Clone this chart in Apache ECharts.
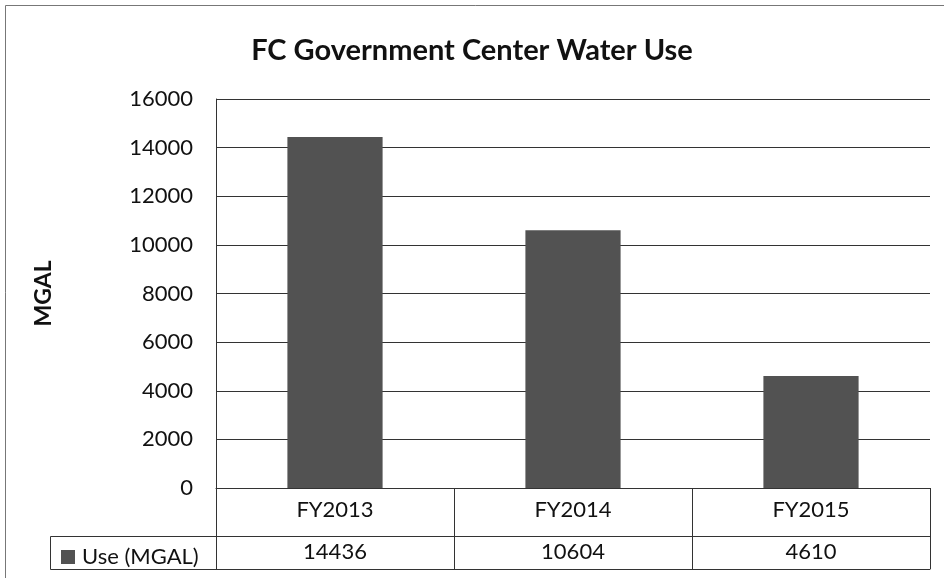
<!DOCTYPE html>
<html>
<head>
<meta charset="utf-8">
<script src="https://cdn.jsdelivr.net/npm/echarts@6/dist/echarts.min.js"></script>
<style>
  html, body { margin: 0; padding: 0; background: #fff; }
  #main { width: 944px; height: 578px; }
</style>
</head>
<body>
<div id="main"></div>
<script>
const categories = ['FY2013', 'FY2014', 'FY2015']
const useValues = [14436, 10604, 4610]
const seriesName = 'Use (MGAL)'

const font = 'Lato, "Open Sans", sans-serif'
const lineColor = '#333'

const chart = echarts.init(document.getElementById('main'))

const option = {
  backgroundColor: '#fff',
  animation: false,
  title: {
    text: 'FC Government Center Water Use',
    left: 'center',
    top: 31,
    textStyle: { fontFamily: font, fontSize: 29, fontWeight: 'bold', color: '#111' },
  },
  legend: {
    data: [seriesName],
    left: 56,
    top: 541,
    icon: 'rect',
    itemWidth: 14,
    itemHeight: 14,
    itemGap: 6,
    textStyle: { fontFamily: font, fontSize: 22, color: '#111', padding: [0, 0, 0, 2] },
  },
  grid: { left: 216, right: 14, top: 99, bottom: 90 },
  xAxis: [
    {
      type: 'category',
      data: categories,
      position: 'bottom',
      axisLine: { show: true, lineStyle: { color: lineColor, width: 1 } },
      axisTick: { show: true, alignWithLabel: false, length: 48, lineStyle: { color: lineColor } },
      axisLabel: { margin: 11, fontFamily: font, fontSize: 22, color: '#111' },
    },
    {
      type: 'category',
      data: useValues.map(v => String(v)),
      position: 'bottom',
      offset: 48,
      axisLine: { show: true, lineStyle: { color: lineColor, width: 1 } },
      axisTick: { show: true, alignWithLabel: false, length: 33, lineStyle: { color: lineColor } },
      axisLabel: { margin: 5, fontFamily: font, fontSize: 22, color: '#111' },
    },
    {
      type: 'category',
      data: categories,
      position: 'bottom',
      offset: 81,
      axisLine: { show: true, lineStyle: { color: lineColor, width: 1 } },
      axisTick: { show: false },
      axisLabel: { show: false },
    },
  ],
  yAxis: {
    type: 'value',
    min: 0,
    max: 16000,
    interval: 2000,
    name: 'MGAL',
    nameLocation: 'middle',
    nameGap: 161,
    nameTextStyle: { fontFamily: font, fontSize: 23, fontWeight: 'bold', color: '#111' },
    axisLine: { show: true, lineStyle: { color: lineColor, width: 1 } },
    axisTick: { show: false },
    axisLabel: {
      margin: 23,
      fontFamily: font,
      fontSize: 22,
      color: '#111',
      formatter: v => String(v),
    },
    splitLine: { show: true, lineStyle: { color: lineColor, width: 1 } },
  },
  series: [
    {
      name: seriesName,
      type: 'bar',
      data: useValues,
      barWidth: '40%',
      itemStyle: { color: '#525252' },
    },
  ],
  graphic: [
    {
      type: 'rect',
      shape: { x: 5.5, y: 5.5, width: 960, height: 600 },
      style: { fill: 'none', stroke: '#777', lineWidth: 1 },
      silent: true,
    },
    {
      type: 'rect',
      shape: { x: 50.5, y: 536.5, width: 166, height: 33 },
      style: { fill: 'none', stroke: lineColor, lineWidth: 1 },
      silent: true,
    },
  ],
}

chart.setOption(option)
</script>
</body>
</html>
